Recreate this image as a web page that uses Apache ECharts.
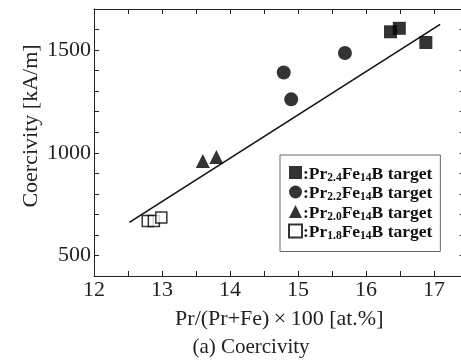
<!DOCTYPE html>
<html>
<head>
<meta charset="utf-8">
<script src="https://cdn.jsdelivr.net/npm/echarts@6/dist/echarts.min.js"></script>
<style>html,body{margin:0;padding:0;background:#fff;}#c{width:461px;height:360px;}</style>
</head>
<body>
<div id="c"></div>
<script>
// Data
var sq24 = [[16.36, 1589], [16.49, 1606], [16.88, 1537]];
var ci22 = [[14.79, 1391], [14.90, 1260], [15.69, 1486]];
var tr20 = [[13.60, 960], [13.80, 980]];
var os18 = [[12.79, 668], [12.88, 668], [12.99, 685]];
var fitLine = [[12.52, 661], [17.09, 1625]];
var legendNames = ['Pr2.4', 'Pr2.2', 'Pr2.0', 'Pr1.8'];
var legendSubs = ['2.4', '2.2', '2.0', '1.8'];
var xTickLabels = [12, 13, 14, 15, 16, 17];
var yTickLabels = [500, 1000, 1500];

var SERIF = '"Liberation Serif", "DejaVu Serif", serif';
var GL = 94, GT = 9, GR = -3.6, GB = 84, W = 461, H = 360;
var GW = W - GL - GR, GH = H - GT - GB;
var XMIN = 12, XMAX = 17.45, YMIN = 400, YMAX = 1700;
var chart = echarts.init(document.getElementById('c'));

function scatter(name, data, symbol, size, hollow) {
  return {
    name: name, type: 'scatter', data: data, symbol: symbol, symbolSize: size,
    itemStyle: hollow ? {color: '#fff', borderColor: '#000', borderWidth: 1.5} : {color: '#000'},
    z: 3
  };
}
var TICK = {show: true, inside: false, length: 5, lineStyle: {color: '#222', width: 1}};
var LINE = {show: true, onZero: false, lineStyle: {color: '#222', width: 1}};
// frame axis (line only)
function xFrame(pos) {
  return {type: 'value', min: XMIN, max: XMAX, interval: 0.5, position: pos,
    axisLine: LINE, axisTick: {show: false}, axisLabel: {show: false}, splitLine: {show: false}};
}
function yFrame(pos) {
  return {type: 'value', min: YMIN, max: YMAX, interval: 100, position: pos,
    axisLine: LINE, axisTick: {show: false}, axisLabel: {show: false}, splitLine: {show: false}};
}
// tick-only axis placed on the opposite side so its outward ticks point into the plot
function xTicks(pos, off) {
  return {type: 'value', min: XMIN, max: XMAX, interval: 0.5, position: pos, offset: off,
    axisLine: {show: false}, axisTick: TICK, axisLabel: {show: false}, splitLine: {show: false}};
}
function yTicks(pos, off) {
  return {type: 'value', min: YMIN, max: YMAX, interval: 100, position: pos, offset: off,
    axisLine: {show: false}, axisTick: TICK, axisLabel: {show: false}, splitLine: {show: false}};
}

var xMain = xFrame('bottom');
xMain.axisLabel = {
  show: true, margin: 3, color: '#222', fontFamily: SERIF, fontSize: 22,
  formatter: function (v) { return xTickLabels.indexOf(v) >= 0 ? String(v) : ''; }
};
xMain.name = 'Pr/(Pr+Fe)\u2009\u00D7\u2009100 [at.%]';
xMain.nameLocation = 'middle';
xMain.nameGap = 32;
xMain.nameTextStyle = {color: '#222', fontFamily: SERIF, fontSize: 22};

var yMain = yFrame('left');
yMain.axisLabel = {
  show: true, margin: 3, color: '#222', fontFamily: SERIF, fontSize: 22,
  formatter: function (v) { return yTickLabels.indexOf(v) >= 0 ? String(v) : ''; }
};

chart.setOption({
  animation: false,
  backgroundColor: '#fff',
  grid: {left: GL, top: GT, right: GR, bottom: GB, containLabel: false, outerBoundsMode: 'none'},
  xAxis: [xMain, xFrame('top'), xTicks('top', -GH), xTicks('bottom', -GH)],
  yAxis: [yMain, yFrame('right'), yTicks('right', -GW), yTicks('left', -GW)],
  legend: {
    orient: 'vertical', left: 280, top: 155,
    data: legendNames,
    itemWidth: 13, itemHeight: 13, itemGap: 0.5,
    padding: [10, 8, 9, 8],
    borderColor: '#666', borderWidth: 1, backgroundColor: '#fff',
    formatter: function (name) {
      var i = legendNames.indexOf(name);
      return '{b|:Pr}{s|' + legendSubs[i] + '}{b|Fe}{s|14}{b|B target}';
    },
    textStyle: {
      padding: [0, 0, 0, -4],
      rich: {
        b: {fontFamily: SERIF, fontWeight: 'bold', fontSize: 17.5, color: '#111', lineHeight: 15, verticalAlign: 'top'},
        s: {fontFamily: SERIF, fontWeight: 'bold', fontSize: 11.5, color: '#111', lineHeight: 10, verticalAlign: 'top', padding: [7, 0, 0, 0]}
      }
    }
  },
  graphic: [{
    type: 'text', x: 31, y: 126, rotation: Math.PI / 2,
    style: {text: 'Coercivity [kA/m]', fill: '#222', font: '22px ' + SERIF, textAlign: 'center', textVerticalAlign: 'middle'}
  }, {
    type: 'text', x: 251, y: 347,
    style: {text: '(a) Coercivity', fill: '#222', font: '21px ' + SERIF, textAlign: 'center', textVerticalAlign: 'middle'}
  }],
  series: [
    {type: 'line', data: fitLine, symbol: 'none', lineStyle: {color: '#111', width: 1.6}, z: 2, silent: true},
    scatter('Pr2.4', sq24, 'rect', 13, false),
    scatter('Pr2.2', ci22, 'circle', 14, false),
    scatter('Pr2.0', tr20, 'triangle', 14, false),
    scatter('Pr1.8', os18, 'rect', 11, true)
  ]
});
</script>
</body>
</html>
